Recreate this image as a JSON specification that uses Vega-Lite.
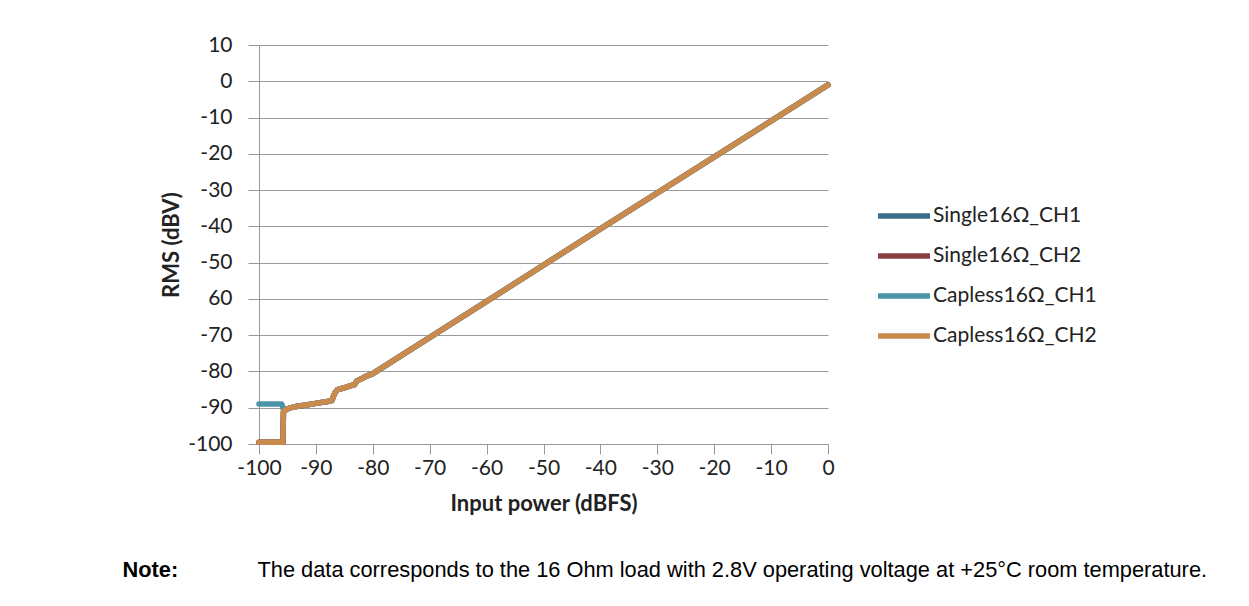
{
  "$schema": "https://vega.github.io/schema/vega-lite/v6.json",
  "autosize": "none",
  "width": 569,
  "height": 399,
  "padding": {"left": 259, "top": 45, "right": 421, "bottom": 162},
  "background": "white",
  "config": {"view": {"stroke": null}},
  "data": {
    "values": [
      {"series": "Single16Ω_CH1", "x": -100, "y": -99.5},
      {"series": "Single16Ω_CH1", "x": -98, "y": -99.5},
      {"series": "Single16Ω_CH1", "x": -95.8, "y": -99.5},
      {"series": "Single16Ω_CH1", "x": -95.7, "y": -91},
      {"series": "Single16Ω_CH1", "x": -95, "y": -90.3},
      {"series": "Single16Ω_CH1", "x": -94, "y": -89.8},
      {"series": "Single16Ω_CH1", "x": -92, "y": -89.3},
      {"series": "Single16Ω_CH1", "x": -90, "y": -88.8},
      {"series": "Single16Ω_CH1", "x": -88, "y": -88.3},
      {"series": "Single16Ω_CH1", "x": -87.2, "y": -88},
      {"series": "Single16Ω_CH1", "x": -86.7, "y": -86},
      {"series": "Single16Ω_CH1", "x": -86.2, "y": -85},
      {"series": "Single16Ω_CH1", "x": -85, "y": -84.5},
      {"series": "Single16Ω_CH1", "x": -84, "y": -84},
      {"series": "Single16Ω_CH1", "x": -83.2, "y": -83.6},
      {"series": "Single16Ω_CH1", "x": -82.8, "y": -82.6},
      {"series": "Single16Ω_CH1", "x": -82, "y": -82},
      {"series": "Single16Ω_CH1", "x": -81, "y": -81.2},
      {"series": "Single16Ω_CH1", "x": -80, "y": -80.6},
      {"series": "Single16Ω_CH1", "x": -40, "y": -40.7},
      {"series": "Single16Ω_CH1", "x": 0, "y": -1},

      {"series": "Single16Ω_CH2", "x": -100, "y": -99.5},
      {"series": "Single16Ω_CH2", "x": -98, "y": -99.5},
      {"series": "Single16Ω_CH2", "x": -95.8, "y": -99.5},
      {"series": "Single16Ω_CH2", "x": -95.7, "y": -91},
      {"series": "Single16Ω_CH2", "x": -95, "y": -90.3},
      {"series": "Single16Ω_CH2", "x": -94, "y": -89.8},
      {"series": "Single16Ω_CH2", "x": -92, "y": -89.3},
      {"series": "Single16Ω_CH2", "x": -90, "y": -88.8},
      {"series": "Single16Ω_CH2", "x": -88, "y": -88.3},
      {"series": "Single16Ω_CH2", "x": -87.2, "y": -88},
      {"series": "Single16Ω_CH2", "x": -86.7, "y": -86},
      {"series": "Single16Ω_CH2", "x": -86.2, "y": -85},
      {"series": "Single16Ω_CH2", "x": -85, "y": -84.5},
      {"series": "Single16Ω_CH2", "x": -84, "y": -84},
      {"series": "Single16Ω_CH2", "x": -83.2, "y": -83.6},
      {"series": "Single16Ω_CH2", "x": -82.8, "y": -82.6},
      {"series": "Single16Ω_CH2", "x": -82, "y": -82},
      {"series": "Single16Ω_CH2", "x": -81, "y": -81.2},
      {"series": "Single16Ω_CH2", "x": -80, "y": -80.6},
      {"series": "Single16Ω_CH2", "x": -40, "y": -40.7},
      {"series": "Single16Ω_CH2", "x": 0, "y": -1},

      {"series": "Capless16Ω_CH1", "x": -100, "y": -89},
      {"series": "Capless16Ω_CH1", "x": -98, "y": -89},
      {"series": "Capless16Ω_CH1", "x": -96, "y": -89},
      {"series": "Capless16Ω_CH1", "x": -95.7, "y": -90.5},
      {"series": "Capless16Ω_CH1", "x": -95, "y": -90.3},
      {"series": "Capless16Ω_CH1", "x": -94, "y": -89.8},
      {"series": "Capless16Ω_CH1", "x": -92, "y": -89.3},
      {"series": "Capless16Ω_CH1", "x": -90, "y": -88.8},
      {"series": "Capless16Ω_CH1", "x": -88, "y": -88.3},
      {"series": "Capless16Ω_CH1", "x": -87.2, "y": -88},
      {"series": "Capless16Ω_CH1", "x": -86.7, "y": -86},
      {"series": "Capless16Ω_CH1", "x": -86.2, "y": -85},
      {"series": "Capless16Ω_CH1", "x": -85, "y": -84.5},
      {"series": "Capless16Ω_CH1", "x": -84, "y": -84},
      {"series": "Capless16Ω_CH1", "x": -83.2, "y": -83.6},
      {"series": "Capless16Ω_CH1", "x": -82.8, "y": -82.6},
      {"series": "Capless16Ω_CH1", "x": -82, "y": -82},
      {"series": "Capless16Ω_CH1", "x": -81, "y": -81.2},
      {"series": "Capless16Ω_CH1", "x": -80, "y": -80.6},
      {"series": "Capless16Ω_CH1", "x": -40, "y": -40.7},
      {"series": "Capless16Ω_CH1", "x": 0, "y": -1},

      {"series": "Capless16Ω_CH2", "x": -100, "y": -99.5},
      {"series": "Capless16Ω_CH2", "x": -98, "y": -99.5},
      {"series": "Capless16Ω_CH2", "x": -95.8, "y": -99.5},
      {"series": "Capless16Ω_CH2", "x": -95.7, "y": -91},
      {"series": "Capless16Ω_CH2", "x": -95, "y": -90.3},
      {"series": "Capless16Ω_CH2", "x": -94, "y": -89.8},
      {"series": "Capless16Ω_CH2", "x": -92, "y": -89.3},
      {"series": "Capless16Ω_CH2", "x": -90, "y": -88.8},
      {"series": "Capless16Ω_CH2", "x": -88, "y": -88.3},
      {"series": "Capless16Ω_CH2", "x": -87.2, "y": -88},
      {"series": "Capless16Ω_CH2", "x": -86.7, "y": -86},
      {"series": "Capless16Ω_CH2", "x": -86.2, "y": -85},
      {"series": "Capless16Ω_CH2", "x": -85, "y": -84.5},
      {"series": "Capless16Ω_CH2", "x": -84, "y": -84},
      {"series": "Capless16Ω_CH2", "x": -83.2, "y": -83.6},
      {"series": "Capless16Ω_CH2", "x": -82.8, "y": -82.6},
      {"series": "Capless16Ω_CH2", "x": -82, "y": -82},
      {"series": "Capless16Ω_CH2", "x": -81, "y": -81.2},
      {"series": "Capless16Ω_CH2", "x": -80, "y": -80.6},
      {"series": "Capless16Ω_CH2", "x": -40, "y": -40.7},
      {"series": "Capless16Ω_CH2", "x": 0, "y": -1}
    ]
  },
  "resolve": {"axis": {"x": "independent", "y": "independent"}},
  "layer": [
    {
      "mark": {"type": "line", "strokeWidth": 5.5, "strokeCap": "round", "strokeJoin": "round", "clip": false},
      "encoding": {
        "x": {
          "field": "x", "type": "quantitative",
          "scale": {"domain": [-100, 0], "nice": false},
          "axis": {
            "orient": "bottom",
            "values": [-100, -90, -80, -70, -60, -50, -40, -30, -20, -10, 0],
            "labelExpr": "'' + datum.value",
            "grid": false,
            "title": "Input power (dBFS)",
            "titleFont": "Lato", "titleFontSize": 22, "titleFontWeight": "bold", "titleColor": "#222222",
            "titlePadding": 15,
            "labelFont": "Lato", "labelFontSize": 21, "labelColor": "#222222",
            "labelPadding": 3, "labelFlush": false, "labelOverlap": false,
            "tickSize": 10, "tickColor": "#9a9a9a", "domainColor": "#9a9a9a", "tickWidth": 1, "domainWidth": 1
          }
        },
        "y": {
          "field": "y", "type": "quantitative",
          "scale": {"domain": [-100, 10], "nice": false},
          "axis": {
            "orient": "left",
            "values": [-100, -90, -80, -70, -60, -50, -40, -30, -20, -10, 0, 10],
            "labelExpr": "datum.value == -60 ? '60' : '' + datum.value",
            "grid": true, "gridColor": "#9a9a9a", "gridWidth": 1,
            "title": "RMS (dBV)",
            "titleFont": "Lato", "titleFontSize": 22, "titleFontWeight": "bold", "titleColor": "#222222",
            "titlePadding": 4,
            "labelFont": "Lato", "labelFontSize": 21, "labelColor": "#222222",
            "labelPadding": 16, "labelOverlap": false,
            "tickSize": 11, "tickColor": "#9a9a9a", "domainColor": "#9a9a9a", "tickWidth": 1, "domainWidth": 1
          }
        },
        "color": {
          "field": "series", "type": "nominal",
          "scale": {
            "domain": ["Single16Ω_CH1", "Single16Ω_CH2", "Capless16Ω_CH1", "Capless16Ω_CH2"],
            "range": ["#3d6b8c", "#8a3f3f", "#4b93a6", "#c98a4e"]
          },
          "legend": {
            "orient": "none", "legendX": 616, "legendY": 142,
            "title": null,
            "symbolType": "stroke", "symbolSize": 2700, "symbolStrokeWidth": 5.5,
            "labelFont": "Lato", "labelFontSize": 21, "labelColor": "#222222",
            "labelOffset": 0, "labelLimit": 400, "rowPadding": -12
          }
        }
      }
    },
    {
      "mark": {"type": "line", "opacity": 0},
      "encoding": {
        "x": {
          "field": "x", "type": "quantitative",
          "axis": {
            "orient": "bottom",
            "labels": false, "ticks": false, "domain": false, "grid": false,
            "title": "The data corresponds to the 16 Ohm load with 2.8V operating voltage at +25°C room temperature.",
            "titleFont": "Liberation Sans", "titleFontSize": 21.8, "titleFontWeight": "normal", "titleColor": "#000000",
            "titleAnchor": "start", "titleAlign": "left", "titleBaseline": "alphabetic",
            "titleX": -2, "titleY": 132, "titleLimit": 1200
          }
        },
        "y": {
          "field": "y", "type": "quantitative",
          "axis": {
            "orient": "left",
            "labels": false, "ticks": false, "domain": false, "grid": false,
            "title": "Note:",
            "titleFont": "Liberation Sans", "titleFontSize": 21.8, "titleFontWeight": "bold", "titleColor": "#000000",
            "titleAngle": 0, "titleAnchor": "start", "titleAlign": "left", "titleBaseline": "alphabetic",
            "titleX": -137, "titleY": 531
          }
        },
        "detail": {"field": "series", "type": "nominal"}
      }
    }
  ]
}
